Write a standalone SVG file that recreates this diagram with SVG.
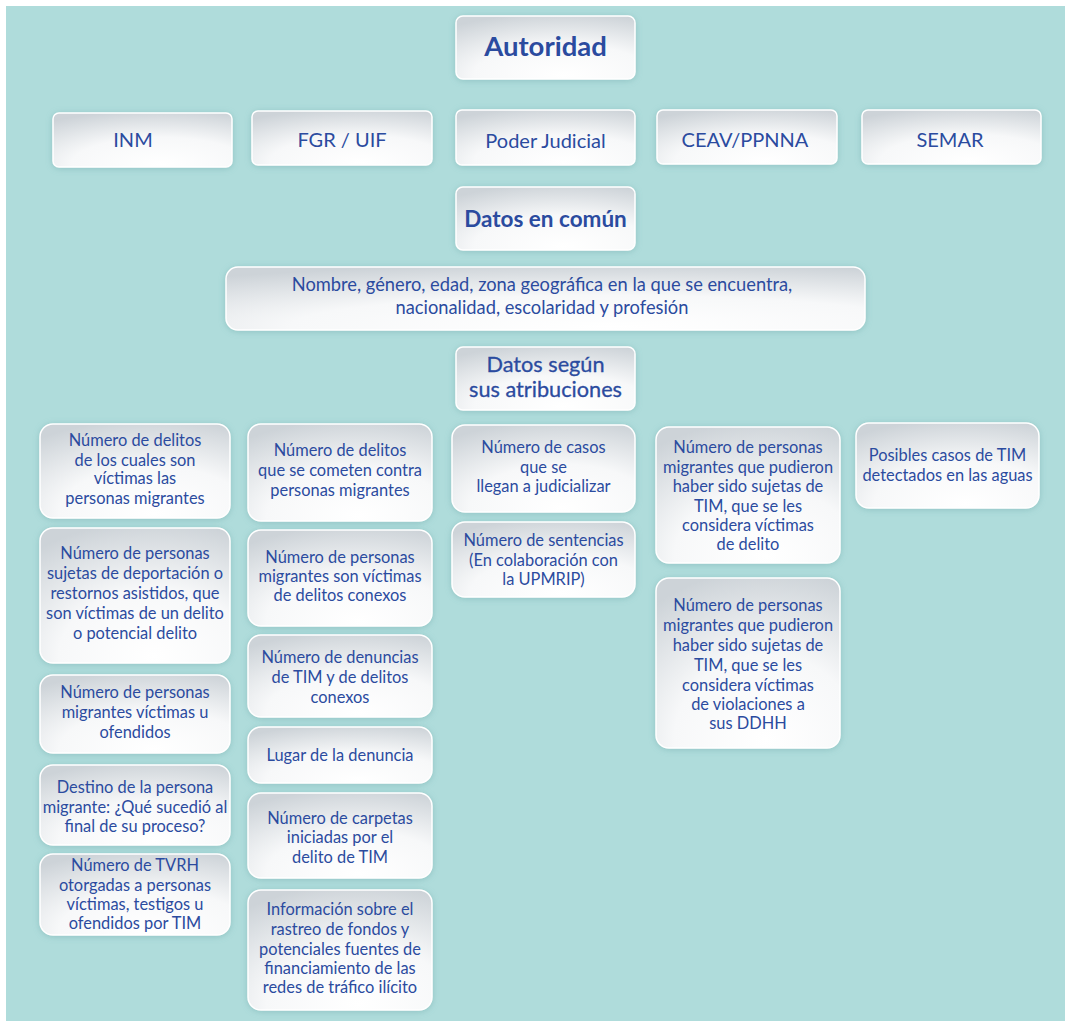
<svg xmlns="http://www.w3.org/2000/svg" width="1065" height="1021" viewBox="0 0 1065 1021">
<defs>
<radialGradient id="g" cx="0.6" cy="0.95" r="1" fx="0.6" fy="0.95">
<stop offset="0" stop-color="#ffffff"/>
<stop offset="0.5" stop-color="#f7f8f9"/>
<stop offset="1" stop-color="#cdd3d8"/>
</radialGradient>
<filter id="sh" x="-10%" y="-20%" width="120%" height="140%">
<feGaussianBlur in="SourceAlpha" stdDeviation="3"/>
<feOffset dx="0" dy="1" result="b"/>
<feFlood flood-color="#5f9ea0" flood-opacity="0.4"/>
<feComposite in2="b" operator="in"/>
<feMerge><feMergeNode/><feMergeNode in="SourceGraphic"/></feMerge>
</filter>
</defs>
<style>
.b{fill:url(#g);stroke:#ffffff;stroke-width:1.5;filter:url(#sh)}
text{font-family:Lato,"Open Sans","DejaVu Sans",sans-serif;fill:#2b4b9f;text-anchor:middle}
.t{font-size:16.4px}
.h{font-size:20px}
.hb{font-size:27.5px;font-weight:bold}
.hm{font-size:22.5px;font-weight:bold}
.hs{font-size:21.7px;stroke:#2b4b9f;stroke-width:0.3}
.n{font-size:18.3px}
</style>
<rect x="0" y="0" width="1065" height="1021" fill="#ffffff"/>
<rect x="6" y="6" width="1059" height="1015" fill="#afdcdb"/>

<g id="autoridad"><rect class="b" x="456" y="16" width="179" height="63" rx="7"/><text class="hb" x="545.5" y="56">Autoridad</text></g>
<g id="inm"><rect class="b" x="53" y="113" width="179" height="54" rx="6"/><text class="h" x="133" y="147">INM</text></g>
<g id="fgr"><rect class="b" x="252" y="111" width="180" height="54" rx="6"/><text class="h" x="342" y="147">FGR / UIF</text></g>
<g id="poder"><rect class="b" x="456" y="110" width="179" height="55" rx="6"/><text class="h" x="545.5" y="148">Poder Judicial</text></g>
<g id="ceav"><rect class="b" x="657" y="110" width="180" height="54" rx="6"/><text class="h" x="745" y="147">CEAV/PPNNA</text></g>
<g id="semar"><rect class="b" x="862" y="110" width="179" height="54" rx="6"/><text class="h" x="950" y="147">SEMAR</text></g>
<g id="comun"><rect class="b" x="456" y="187" width="179" height="63" rx="7"/><text class="hm" x="545.5" y="227">Datos en común</text></g>
<g id="nombre"><rect class="b" x="226" y="267" width="639" height="63" rx="12"/><text class="n" x="542" y="291">Nombre, género, edad, zona geográfica en la que se encuentra,</text><text class="n" x="542" y="314">nacionalidad, escolaridad y profesión</text></g>
<g id="segun"><rect class="b" x="456" y="347" width="179" height="63" rx="7"/><text class="hs" x="545.5" y="372">Datos según</text><text class="hs" x="545.5" y="397">sus atribuciones</text></g>

<g id="c1b1"><rect class="b" x="40" y="424" width="190" height="94" rx="13"/><text class="t" x="135" y="445.5">Número de delitos</text><text class="t" x="135" y="465.5">de los cuales son</text><text class="t" x="135" y="484">víctimas las</text><text class="t" x="135" y="503.5">personas migrantes</text></g>
<g id="c1b2"><rect class="b" x="40" y="528" width="190" height="135" rx="13"/><text class="t" x="135" y="558.5">Número de personas</text><text class="t" x="135" y="579">sujetas de deportación o</text><text class="t" x="135" y="598.5">restornos asistidos, que</text><text class="t" x="135" y="618.5">son víctimas de un delito</text><text class="t" x="135" y="638.5">o potencial delito</text></g>
<g id="c1b3"><rect class="b" x="40" y="675" width="190" height="78" rx="13"/><text class="t" x="135" y="697.5">Número de personas</text><text class="t" x="135" y="717.5">migrantes víctimas u</text><text class="t" x="135" y="737.5">ofendidos</text></g>
<g id="c1b4"><rect class="b" x="40" y="765" width="190" height="80" rx="13"/><text class="t" x="135" y="792.5">Destino de la persona</text><text class="t" x="135" y="812.5">migrante: ¿Qué sucedió al</text><text class="t" x="135" y="831.5">final de su proceso?</text></g>
<g id="c1b5"><rect class="b" x="40" y="854" width="190" height="81" rx="13"/><text class="t" x="135" y="870.5">Número de TVRH</text><text class="t" x="135" y="890.5">otorgadas a personas</text><text class="t" x="135" y="909.5">víctimas, testigos u</text><text class="t" x="135" y="928.5">ofendidos por TIM</text></g>

<g id="c2b1"><rect class="b" x="248" y="424" width="184" height="97" rx="13"/><text class="t" x="340" y="455.5">Número de delitos</text><text class="t" x="340" y="475.5">que se cometen contra</text><text class="t" x="340" y="495.5">personas migrantes</text></g>
<g id="c2b2"><rect class="b" x="248" y="530" width="184" height="96" rx="13"/><text class="t" x="340" y="562.5">Número de personas</text><text class="t" x="340" y="582">migrantes son víctimas</text><text class="t" x="340" y="600.5">de delitos conexos</text></g>
<g id="c2b3"><rect class="b" x="248" y="635" width="184" height="82" rx="13"/><text class="t" x="340" y="662.5">Número de denuncias</text><text class="t" x="340" y="682.5">de TIM y de delitos</text><text class="t" x="340" y="702.5">conexos</text></g>
<g id="c2b4"><rect class="b" x="248" y="727" width="184" height="56" rx="13"/><text class="t" x="340" y="760.5">Lugar de la denuncia</text></g>
<g id="c2b5"><rect class="b" x="248" y="793" width="184" height="85" rx="13"/><text class="t" x="340" y="823.5">Número de carpetas</text><text class="t" x="340" y="842.5">iniciadas por el</text><text class="t" x="340" y="862.5">delito de TIM</text></g>
<g id="c2b6"><rect class="b" x="248" y="890" width="184" height="120" rx="13"/><text class="t" x="340" y="914.5">Información sobre el</text><text class="t" x="340" y="934.5">rastreo de fondos y</text><text class="t" x="340" y="954.5">potenciales fuentes de</text><text class="t" x="340" y="973.5">financiamiento de las</text><text class="t" x="340" y="992.5">redes de tráfico ilícito</text></g>

<g id="c3b1"><rect class="b" x="452" y="425" width="183" height="87" rx="13"/><text class="t" x="543.5" y="452.5">Número de casos</text><text class="t" x="543.5" y="472.5">que se</text><text class="t" x="543.5" y="491.5">llegan a judicializar</text></g>
<g id="c3b2"><rect class="b" x="452" y="522" width="183" height="75" rx="13"/><text class="t" x="543.5" y="545.5">Número de sentencias</text><text class="t" x="543.5" y="565.5">(En colaboración con</text><text class="t" x="543.5" y="584.5">la UPMRIP)</text></g>

<g id="c4b1"><rect class="b" x="656" y="427" width="184" height="136" rx="13"/><text class="t" x="748" y="452.5">Número de personas</text><text class="t" x="748" y="472.5">migrantes que pudieron</text><text class="t" x="748" y="491.5">haber sido sujetas de</text><text class="t" x="748" y="511.5">TIM, que se les</text><text class="t" x="748" y="530.5">considera víctimas</text><text class="t" x="748" y="549.5">de delito</text></g>
<g id="c4b2"><rect class="b" x="656" y="578" width="184" height="170" rx="13"/><text class="t" x="748" y="610.5">Número de personas</text><text class="t" x="748" y="631">migrantes que pudieron</text><text class="t" x="748" y="651">haber sido sujetas de</text><text class="t" x="748" y="671">TIM, que se les</text><text class="t" x="748" y="690.5">considera víctimas</text><text class="t" x="748" y="709.5">de violaciones a</text><text class="t" x="748" y="728.5">sus DDHH</text></g>

<g id="c5b1"><rect class="b" x="856" y="423" width="183" height="85" rx="13"/><text class="t" x="947.5" y="460.5">Posibles casos de TIM</text><text class="t" x="947.5" y="480.5">detectados en las aguas</text></g>

<g id="connectors"/>
</svg>
